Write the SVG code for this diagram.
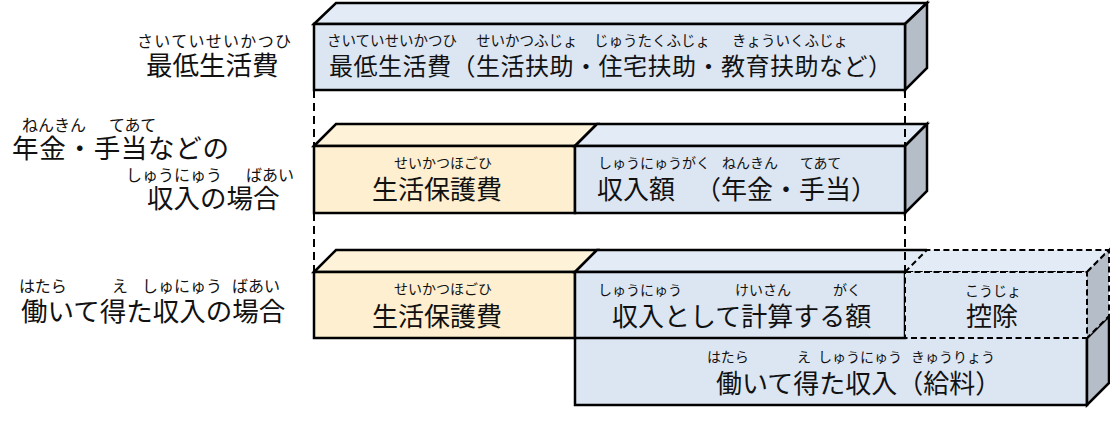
<svg xmlns="http://www.w3.org/2000/svg" width="1110" height="437" viewBox="0 0 1110 437">
<style>
text { font-family: "Noto Sans CJK JP", "Noto Sans CJK SC", sans-serif; fill: #111; }
.m { font-size: 26px; }
.m1 { font-size: 24px; }
.lb { font-size: 26.5px; }
.rb { font-size: 14px; }
.rb1 { font-size: 14.5px; }
.rl { font-size: 16px; }
.c { text-anchor: middle; }
.ln { stroke: #000; stroke-width: 2.5; stroke-linejoin: miter; }
.fb { fill: #dce6f2; }
.tb { fill: #e3ebf6; }
.sd { fill: #b5bec8; }
.fy { fill: #fdefcf; }
.ty { fill: #fef3d9; }
.nf { fill: none; }
.dash { stroke: #000; stroke-width: 2; stroke-dasharray: 6 3.5; }
.guide { fill: none; stroke: #000; stroke-width: 2; stroke-dasharray: 8 5; }
</style>
<rect width="1110" height="437" fill="#fff"/>

<g id="label-min-living">
  <text class="rl" x="137" y="47" textLength="154">さいていせいかつひ</text>
  <text class="lb" x="146" y="75">最低生活費</text>
</g>
<g id="label-pension">
  <text class="rl" x="22" y="131">ねんきん</text>
  <text class="rl" x="109" y="131">てあて</text>
  <text class="lb" x="12" y="158" textLength="217">年金・手当などの</text>
  <text class="rl" x="126" y="181">しゅうにゅう</text>
  <text class="rl" x="246" y="181">ばあい</text>
  <text class="lb" x="147" y="208">収入の場合</text>
</g>
<g id="label-work">
  <text class="rl" x="19" y="292">はたら</text>
  <text class="rl" x="112" y="292">え</text>
  <text class="rl" x="142" y="292">しゅにゅう</text>
  <text class="rl" x="232" y="292">ばあい</text>
  <text class="lb" x="21" y="321">働いて得た収入の場合</text>
</g>

<g id="box-min-living">
  <polygon class="tb ln" points="314,24 336,3 927,3 905,24"/>
  <polygon class="sd ln" points="905,24 927,3 927,68 905,90"/>
  <rect class="fb ln" x="314" y="24" width="591" height="66"/>
  <text class="rb1" x="327" y="46">さいていせいかつひ</text>
  <text class="rb1" x="476" y="46">せいかつふじょ</text>
  <text class="rb1" x="594" y="46">じゅうたくふじょ</text>
  <text class="rb1" x="732" y="46">きょういくふじょ</text>
  <text class="m1" x="329" y="75" textLength="563">最低生活費（生活扶助・住宅扶助・教育扶助など）</text>
</g>

<g id="box-r2-protection">
  <polygon class="ty ln" points="314,146 336,124 597,124 575,146"/>
  <rect class="fy ln" x="314" y="146" width="261" height="67"/>
  <text class="rb c" x="443" y="168">せいかつほごひ</text>
  <text class="m c" x="437" y="199">生活保護費</text>
</g>
<g id="box-r2-income">
  <polygon class="tb ln" points="575,146 597,124 927,124 905,146"/>
  <polygon class="sd ln" points="905,146 927,124 927,191 905,213"/>
  <rect class="fb ln" x="575" y="146" width="330" height="67"/>
  <text class="rb" x="598" y="168">しゅうにゅうがく</text>
  <text class="rb" x="722" y="168">ねんきん</text>
  <text class="rb" x="800" y="168">てあて</text>
  <text class="m" x="597" y="199">収入額 <tspan x="695">（年金・手当）</tspan></text>
</g>

<g id="box-r3-wage">
  <rect class="fb" x="575" y="338" width="512" height="67"/>
  <path class="ln nf" d="M575,338 V405 H1087 V338"/>
  <polygon class="sd ln" points="1087,338 1109,316 1109,383 1087,405"/>
  <text class="rb" x="707" y="362">はたら</text>
  <text class="rb" x="797" y="362">え</text>
  <text class="rb" x="818" y="362">しゅうにゅう</text>
  <text class="rb" x="911" y="362">きゅうりょう</text>
  <text class="m" x="716" y="393">働いて得た収入（給料）</text>
</g>

<g id="box-r3-protection">
  <polygon class="ty ln" points="314,272 336,250 597,250 575,272"/>
  <rect class="fy ln" x="314" y="272" width="261" height="66"/>
  <text class="rb c" x="443" y="294">せいかつほごひ</text>
  <text class="m c" x="437" y="326">生活保護費</text>
</g>
<g id="box-r3-income">
  <polygon class="tb" points="575,272 597,250 927,250 905,272"/>
  <path class="ln nf" d="M905,272 H575 L597,250 H927"/>
  <rect class="fb ln" x="575" y="272" width="330" height="66"/>
  <text class="rb" x="598" y="295">しゅうにゅう</text>
  <text class="rb" x="735" y="295">けいさん</text>
  <text class="rb" x="833" y="295">がく</text>
  <text class="m" x="612" y="326">収入として計算する額</text>
</g>

<g id="box-r3-deduction">
  <polygon class="tb dash" points="905,272 927,250 1109,250 1087,272"/>
  <polygon class="sd dash" points="1087,272 1109,250 1109,316 1087,338"/>
  <rect class="fb dash" x="905" y="272" width="182" height="66"/>
  <text class="rb c" x="993" y="296">こうじょ</text>
  <text class="m c" x="992" y="326">控除</text>
</g>

<g id="connectors">
  <path class="guide" d="M314,90 V146 M905,90 V146 M314,213 V272 M905,213 V272"/>
</g>
</svg>
